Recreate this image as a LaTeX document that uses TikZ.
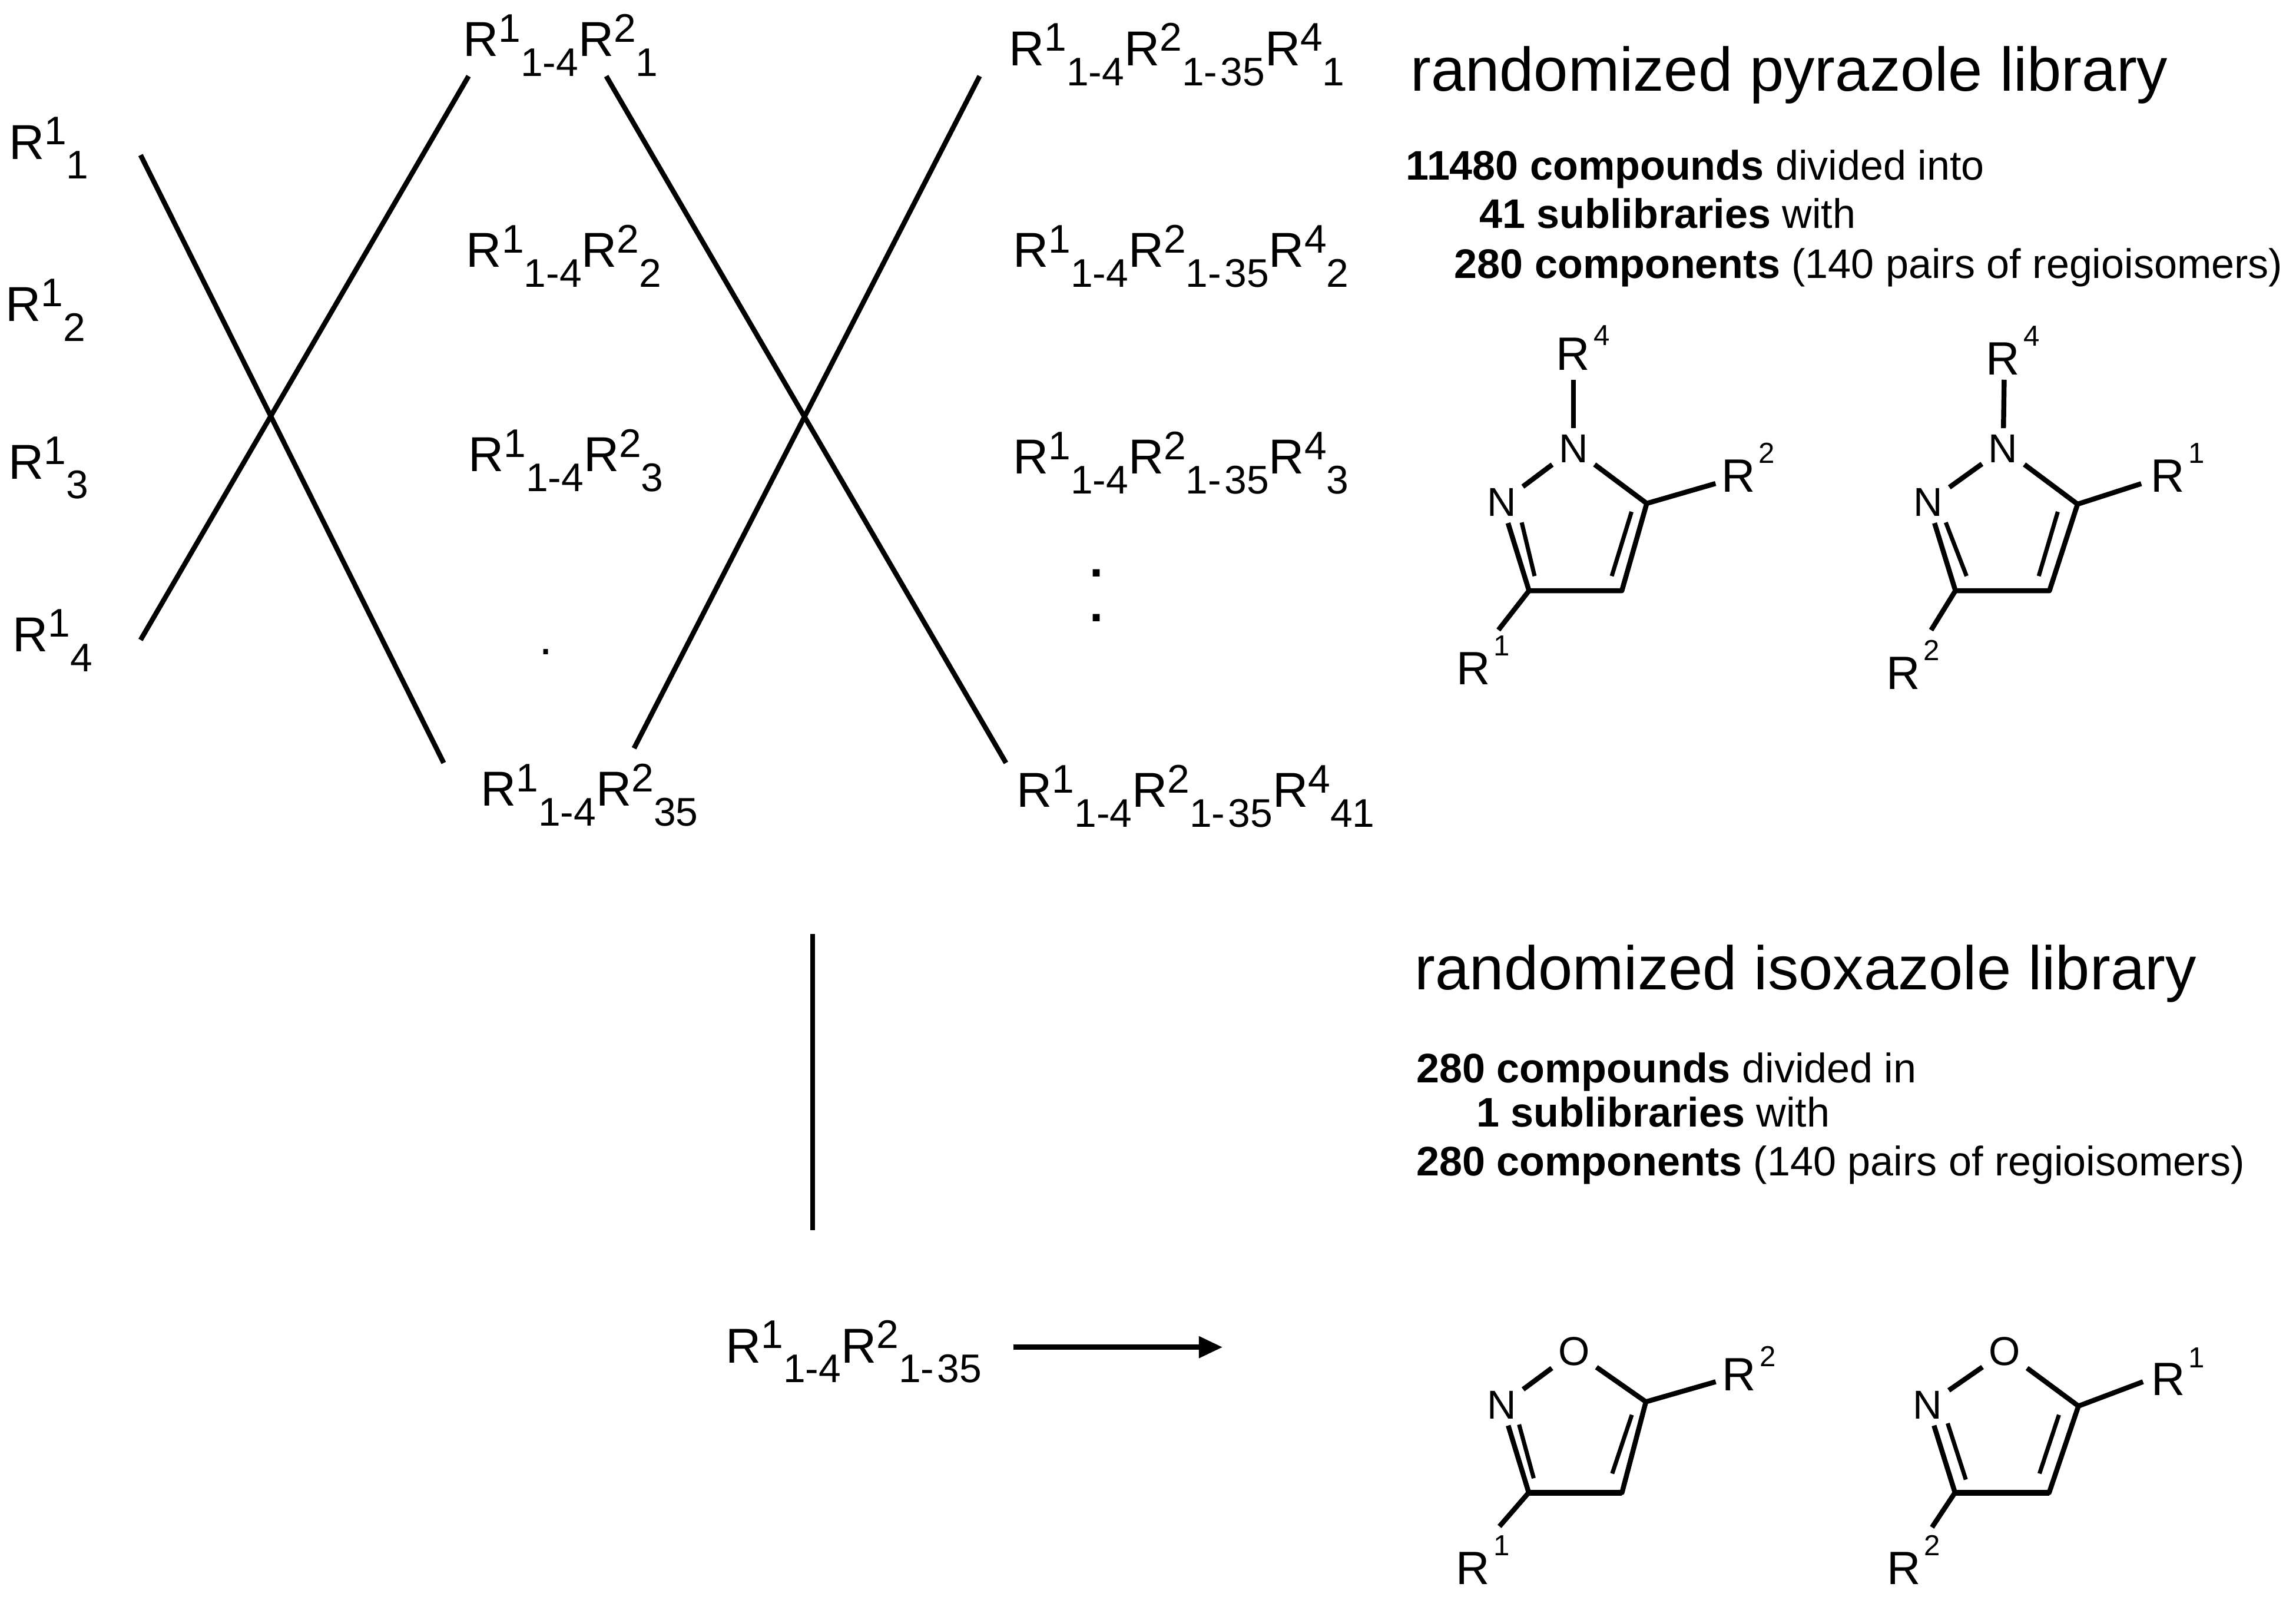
\documentclass[tikz,border=0pt]{standalone}
\usepackage{fontspec}
\setmainfont{Liberation Sans}
\usetikzlibrary{arrows.meta}
\newcommand{\rup}[1]{\raisebox{7pt}{\fontsize{19.3}{20}\selectfont #1}}
\newcommand{\rdn}[1]{\raisebox{-9.6pt}{\fontsize{19.3}{20}\selectfont #1}}
\newcommand{\msup}[2][14pt]{R\hspace{1.8pt}\raisebox{#1}{\fontsize{14}{15}\selectfont #2}}
% bonds of one five-membered ring, #1 = prefix of its names
\newcommand{\ringbonds}[1]{
\draw[bond] (#1a1) -- (#1c5) -- (#1c4) -- (#1c3) -- (#1a2);
\draw[bond] (#1a1) -- (#1a2);
\draw[inbond] (#1i1) -- (#1i2);
\draw[inbond] (#1i3) -- (#1i4);
}
\tikzset{
  lab/.style={anchor=base west,inner sep=0pt,font=\fontsize{23.7}{26}\selectfont},
  title/.style={anchor=base west,inner sep=0pt,font=\fontsize{29.8}{32}\selectfont},
  info/.style={anchor=base west,inner sep=0pt,font=\fontsize{19.95}{22}\selectfont},
  atom/.style={inner sep=3pt,font=\fontsize{19.5}{22}\selectfont},
  rest/.style={anchor=base west,inner sep=0pt,font=\fontsize{22.6}{24}\selectfont},
  xline/.style={line width=2.4pt},
  bond/.style={line width=2.4pt,line join=round},
  inbond/.style={line width=2pt},
  wideband/.style={line width=2.9pt},
  arrowline/.style={line width=2.5pt,-{Triangle[length=11.5pt,width=10pt]}}
}
\begin{document}
\begin{tikzpicture}[x=0.2487mm,y=-0.2487mm]
\useasboundingbox (0,0) rectangle (1568,1092.5);

% first split
\foreach \i/\x/\y in {1/5.8/108.6,2/3.5/219.4,3/5.5/327,4/8.5/445} {
  \node[lab] (ra\i) at (\x,\y) {R\rup{1}\rdn{\i}};
}
\node[lab] (rb1) at (315.9,38.6) {R\rup{1}\rdn{1-4}R\rup{2}\rdn{1}};
\node[lab] (rb2) at (318.2,182.5) {R\rup{1}\rdn{1-4}R\rup{2}\rdn{2}};
\node[lab] (rb3) at (319.5,322) {R\rup{1}\rdn{1-4}R\rup{2}\rdn{3}};
\node[lab,anchor=base] (rbdot) at (373,447) {.};
\node[lab] (rb35) at (328,550.5) {R\rup{1}\rdn{1-4}R\rup{2}\rdn{35}};
\coordinate (xa1) at (96,105.9);
\coordinate (xa2) at (303,521);
\coordinate (xa3) at (96,437);
\coordinate (xa4) at (320,52);
\draw[xline] (xa1) -- (xa2);
\draw[xline] (xa3) -- (xa4);

% second split
\node[lab] (rc1) at (688.7,44.8) {R\rup{1}\rdn{1-4}R\rup{2}\rdn{1-\kern1.5pt 35}R\rup{4}\rdn{1}};
\node[lab] (rc2) at (691.5,182.5) {R\rup{1}\rdn{1-4}R\rup{2}\rdn{1-\kern1.5pt 35}R\rup{4}\rdn{2}};
\node[lab] (rc3) at (691.5,323.6) {R\rup{1}\rdn{1-4}R\rup{2}\rdn{1-\kern1.5pt 35}R\rup{4}\rdn{3}};
\node[lab,anchor=base] (rcdot1) at (749,394) {\textbf{.}};
\node[lab,anchor=base] (rcdot2) at (749,424.5) {\textbf{.}};
\node[lab] (rc41) at (694,551.2) {R\rup{1}\rdn{1-4}R\rup{2}\rdn{1-\kern1.5pt 35}R\rup{4}\rdn{41}};
\coordinate (xb1) at (414,52);
\coordinate (xb2) at (687,521);
\coordinate (xb3) at (433,511);
\coordinate (xb4) at (669,52);
\draw[xline] (xb1) -- (xb2);
\draw[xline] (xb3) -- (xb4);

% to the isoxazoles
\coordinate (va) at (555,638);
\coordinate (vb) at (555,840);
\draw[xline] (va) -- (vb);
\node[lab] (mix) at (495.3,930.6) {R\rup{1}\rdn{1-4}R\rup{2}\rdn{1-\kern1.5pt 35}};
\coordinate (arrowend) at (835,920);
\draw[arrowline] ([shift={(21.5,-10.6)}]mix.base east) -- (arrowend);

% pyrazole texts
\node[title] (ptitle) at (963,62) {randomized pyrazole library};
\node[info] (pinfo1) at (960,123) {\textbf{11480 compounds} divided into};
\node[info] (pinfo2) at (1010,156) {\textbf{41 sublibraries} with};
\node[info] (pinfo3) at (993,190) {\textbf{280 components} (140 pairs of regioisomers)};

% isoxazole texts
\node[title] (ititle) at (966,676) {randomized isoxazole library};
\node[info] (iinfo1) at (967,739.5) {\textbf{280 compounds} divided in};
\node[info] (iinfo2) at (1008,769.5) {\textbf{1 sublibraries} with};
\node[info] (iinfo3) at (967,803) {\textbf{280 components} (140 pairs of regioisomers)};

% pyrazole, left
\node[atom] (paa1) at (1074.5,306.4) {N};
\node[atom] (paa2) at (1025.5,343.2) {N};
\coordinate (pac5) at (1124.6,343.8);
\coordinate (pac4) at (1107.6,403.4);
\coordinate (pac3) at (1044.2,403.4);
\coordinate (pai1) at (1114.2,349.5);
\coordinate (pai2) at (1100.7,393.4);
\coordinate (pai3) at (1039.2,356.8);
\coordinate (pai4) at (1048,393.4);
\ringbonds{pa}
\node[rest] (par4) at (1062.5,252.7) {\msup[11.8pt]{4}};
\node[rest] (par2) at (1175.2,336.2) {\msup{2}};
\node[rest] (par1) at (994.3,467.6) {\msup{1}};
\draw[bond] (paa1) -- ([shift={(12,6.6)}]par4.base west);
\draw[bond] (pac5) -- ([shift={(-3.6,-6)}]par2.base west);
\draw[bond] (pac3) -- ([shift={(29,-37.4)}]par1.base west);

% pyrazole, right
\node[atom] (pba1) at (1368,306.4) {N};
\node[atom] (pba2) at (1316.8,343.2) {N};
\coordinate (pbc5) at (1418.8,344.3);
\coordinate (pbc4) at (1399.6,403.4);
\coordinate (pbc3) at (1335.4,403.4);
\coordinate (pbi1) at (1405.3,349.5);
\coordinate (pbi2) at (1392.3,393.4);
\coordinate (pbi3) at (1328.8,356.8);
\coordinate (pbi4) at (1343,393.4);
\ringbonds{pb}
\node[rest] (pbr4) at (1355.9,255.9) {\msup{4}};
\node[rest] (pbr1) at (1468.6,336.2) {\msup{1}};
\node[rest] (pbr2) at (1287.8,470.7) {\msup{2}};
\draw[bond] (pba1) -- ([shift={(12.8,3.4)}]pbr4.base west);
\draw[bond] (pbc5) -- ([shift={(-6.3,-5.9)}]pbr1.base west);
\draw[bond] (pbc3) -- ([shift={(31,-40.4)}]pbr2.base west);

% isoxazole, left
\node[atom] (iaa1) at (1075,923) {O};
\node[atom] (iaa2) at (1025.7,959.5) {N};
\coordinate (iac5) at (1124,957.3);
\coordinate (iac4) at (1107.7,1019.3);
\coordinate (iac3) at (1044,1019.3);
\coordinate (iai1) at (1114.4,966.2);
\coordinate (iai2) at (1101,1006.3);
\coordinate (iai3) at (1037.4,972.8);
\coordinate (iai4) at (1047.4,1009.5);
\ringbonds{ia}
\draw[wideband] (iac4) -- (iac3);
\node[rest] (iar2) at (1175.9,949.6) {\msup[11.7pt]{2}};
\node[rest] (iar1) at (994.2,1082.1) {\msup{1}};
\draw[bond] (iac5) -- ([shift={(-4.2,-6)}]iar2.base west);
\draw[bond] (iac3) -- ([shift={(29.8,-39.7)}]iar1.base west);

% isoxazole, right
\node[atom] (iba1) at (1369.1,923) {O};
\node[atom] (iba2) at (1316.4,959.5) {N};
\coordinate (ibc5) at (1419.4,960.2);
\coordinate (ibc4) at (1399.4,1019.3);
\coordinate (ibc3) at (1335.1,1019.3);
\coordinate (ibi1) at (1406.1,966.2);
\coordinate (ibi2) at (1392.8,1006.3);
\coordinate (ibi3) at (1330.1,972);
\coordinate (ibi4) at (1342.5,1010.4);
\ringbonds{ib}
\draw[wideband] (ibc4) -- (ibc3);
\node[rest] (ibr1) at (1468.8,952.9) {\msup[13.4pt]{1}};
\node[rest] (ibr2) at (1288.3,1082.1) {\msup{2}};
\draw[bond] (ibc5) -- ([shift={(-5.3,-9.3)}]ibr1.base west);
\draw[bond] (ibc3) -- ([shift={(31.1,-39.1)}]ibr2.base west);

\end{tikzpicture}
\end{document}
